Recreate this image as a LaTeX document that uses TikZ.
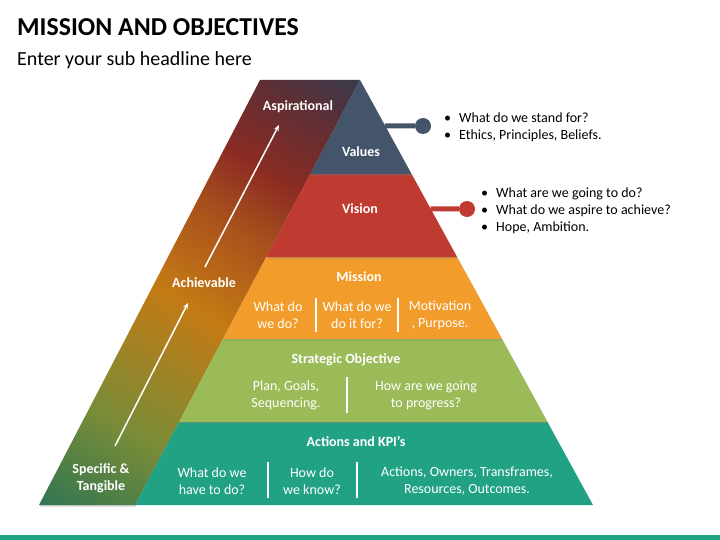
\documentclass[tikz,border=0pt]{standalone}
\usepackage{fontspec}
\setmainfont{Carlito}
\usetikzlibrary{arrows.meta,calc,shadows}
\definecolor{valuescol}{HTML}{44546A}
\definecolor{visioncol}{HTML}{BF3A30}
\definecolor{missioncol}{HTML}{F29C2B}
\definecolor{strategycol}{HTML}{9BBB59}
\definecolor{actioncol}{HTML}{21A284}
\definecolor{bandgreen}{HTML}{2D7552}
\definecolor{bandolive}{HTML}{7A8C37}
\definecolor{bandorange}{HTML}{C47A14}
\definecolor{bandrust}{HTML}{A8501C}
\definecolor{bandred}{HTML}{8B2B23}
\definecolor{bandwine}{HTML}{5C2F36}
\definecolor{banddark}{HTML}{2F3D50}
\pgfdeclareverticalshading{bandshade}{100bp}{color(0bp)=(bandgreen);color(15bp)=(bandgreen);color(30bp)=(bandolive);color(48bp)=(bandorange);color(60bp)=(bandrust);color(68bp)=(bandred);color(78bp)=(bandwine);color(86bp)=(banddark);color(100bp)=(banddark)}
\tikzset{
  layer/.style={drop shadow={shadow xshift=1pt,shadow yshift=-1.5pt,opacity=0.35}},
  layertitle/.style={text=white,font=\bfseries\fontsize{14}{17}\selectfont},
  layertext/.style={text=white,align=center,font=\fontsize{14}{17}\selectfont},
  divider/.style={white,line width=1.5pt},
  bandarrow/.style={white,line width=1.5pt,-{Stealth[length=6pt,width=5pt]}},
  notes/.style={anchor=base west,inner sep=0,font=\fontsize{14}{17}\selectfont},
  dot/.style={circle,inner sep=0,minimum size=16pt}
}
\begin{document}
\begin{tikzpicture}[x=1pt,y=-1pt]
  \useasboundingbox (0,0) rectangle (720,540);
  \fill[actioncol] (0,535) rectangle (720,540);
  \node[anchor=base west,inner sep=0,font=\bfseries\fontsize{25.8}{30}\selectfont] (title) at (17,36) {MISSION AND OBJECTIVES};
  \node[anchor=base west,inner sep=0,font=\fontsize{20}{24}\selectfont] (subtitle) at (17,66) {Enter your sub headline here};
  \coordinate (apex) at (360,80);
  \coordinate (bl) at (135,505);
  \coordinate (br) at (593,505);
  \shade[shading=bandshade,shading angle=-32,layer] (39,505) -- (bl) -- (apex) -- (260,80) -- cycle;
  \fill[actioncol] ($(apex)!0.8047!(bl)$) -- ($(apex)!0.8047!(br)$) -- (br) -- (bl) -- cycle;
  \fill[strategycol,layer] ($(apex)!0.6094!(bl)$) -- ($(apex)!0.6094!(br)$) -- ($(apex)!0.8047!(br)$) -- ($(apex)!0.8047!(bl)$) -- cycle;
  \fill[missioncol,layer] ($(apex)!0.4165!(bl)$) -- ($(apex)!0.4165!(br)$) -- ($(apex)!0.6094!(br)$) -- ($(apex)!0.6094!(bl)$) -- cycle;
  \fill[visioncol,layer] ($(apex)!0.2212!(bl)$) -- ($(apex)!0.2212!(br)$) -- ($(apex)!0.4165!(br)$) -- ($(apex)!0.4165!(bl)$) -- cycle;
  \fill[valuescol,layer] (apex) -- ($(apex)!0.2212!(br)$) -- ($(apex)!0.2212!(bl)$) -- cycle;
  \coordinate (lowstart) at (115,446);
  \coordinate (lowend) at (188,303);
  \coordinate (highstart) at (205,267);
  \coordinate (highend) at (279,125);
  \draw[bandarrow] (lowstart) -- (lowend);
  \draw[bandarrow] (highstart) -- (highend);
  \node[layertitle] (aspirational) at (298,107) {Aspirational};
  \node[layertitle] (achievable) at (204,283) {Achievable};
  \node[layertitle,align=center] (specific) at (101,478) {Specific \&\\Tangible};
  \node[layertitle] (values) at (361,152) {Values};
  \node[layertitle] (vision) at (360,209) {Vision};
  \node[layertitle] (mission) at (359,277) {Mission};
  \node[layertitle] (strategic) at (346,360) {Strategic Objective};
  \node[layertitle] (actions) at (356,441) {Actions and KPI’s};
  \node[layertext] (missiona) at (278,315) {What do\\we do?};
  \node[layertext] (missionb) at (357,315) {What do we\\do it for?};
  \node[layertext] (missionc) at (440,315) {Motivation\\, Purpose.};
  \draw[divider] (316,298) -- (316,332);
  \draw[divider] (398,298) -- (398,332);
  \node[layertext] (strategica) at (286,395) {Plan, Goals,\\Sequencing.};
  \node[layertext] (strategicb) at (426,395) {How are we going\\to progress?};
  \draw[divider] (347,377) -- (347,413);
  \node[layertext] (actionsa) at (212,481) {What do we\\have to do?};
  \node[layertext] (actionsb) at (312,481) {How do\\we know?};
  \node[layertext] (actionsc) at (467,481) {Actions, Owners, Transframes,\\Resources, Outcomes.};
  \draw[divider] (268,462) -- (268,498);
  \draw[divider] (357,462) -- (357,498);
  \coordinate (valuesedge) at ($(apex)!0.108!(br)$);
  \coordinate (visionedge) at ($(apex)!0.3035!(br)$);
  \node[dot,fill=valuescol] (valuesdot) at (423,126) {};
  \node[dot,fill=visioncol] (visiondot) at (467,209) {};
  \draw[valuescol,line width=5pt] (valuesedge) -- (valuesdot);
  \draw[visioncol,line width=5pt] (visionedge) -- (visiondot);
  \node[notes] (valuesnote) at (444,122.5) {\begin{tabular}[t]{@{}l@{}l@{}}\makebox[15pt][l]{•} & What do we stand for?\\ \makebox[15pt][l]{•} & Ethics, Principles, Beliefs.\end{tabular}};
  \node[notes] (visionnote) at (481,197.5) {\begin{tabular}[t]{@{}l@{}l@{}}\makebox[15pt][l]{•} & What are we going to do?\\ \makebox[15pt][l]{•} & What do we aspire to achieve?\\ \makebox[15pt][l]{•} & Hope, Ambition.\end{tabular}};
\end{tikzpicture}
\end{document}
